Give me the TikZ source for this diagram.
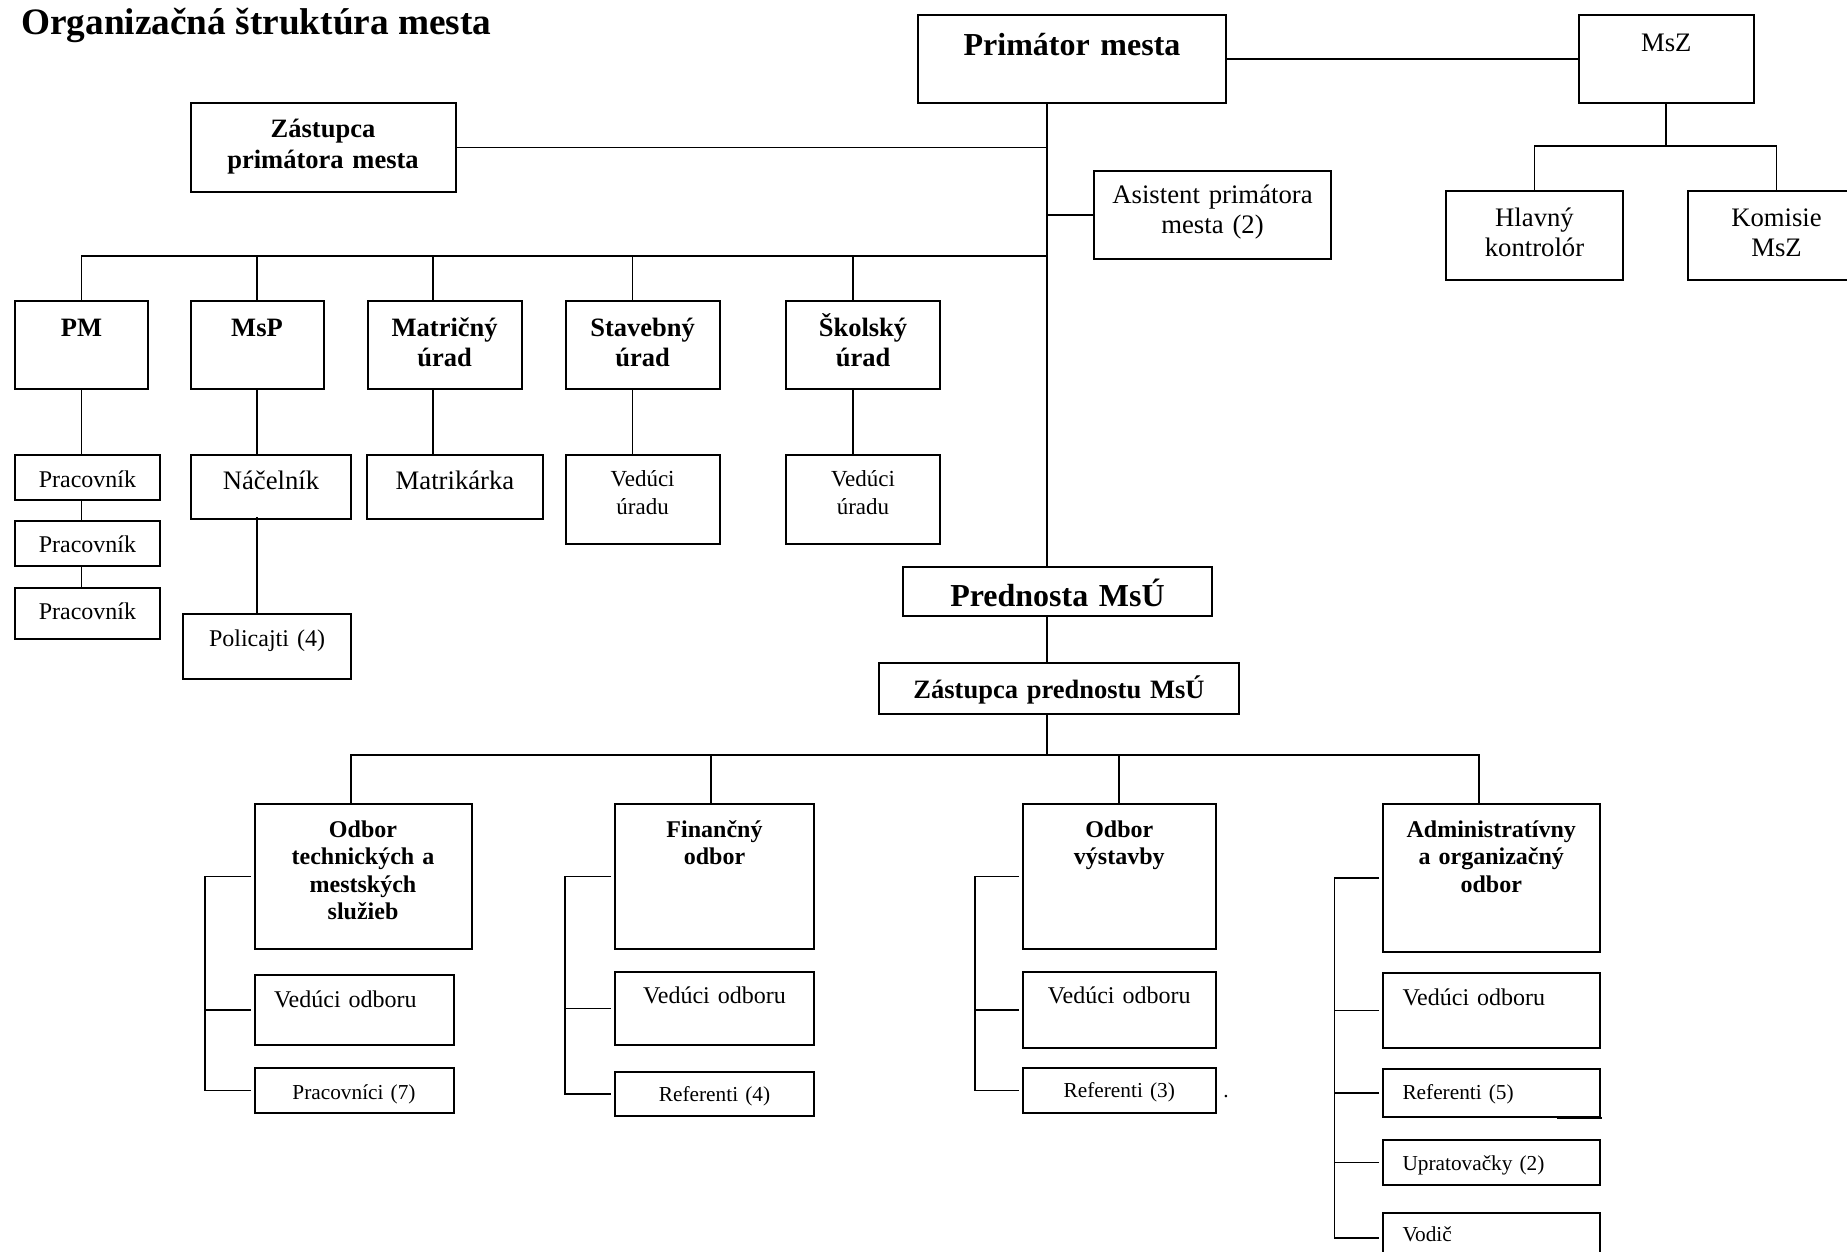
\documentclass[tikz,border=0pt]{standalone}
\usepackage{fontspec}
\setmainfont{Liberation Serif}
\usepackage{tikz}
\usetikzlibrary{positioning}
\usetikzlibrary{calc}

\begin{document}
\begin{tikzpicture}[x=1pt, y=-1pt,
        every node/.style={inner sep=0pt, align=center},
        box/.style={draw, line width=2pt, anchor=north west},
        boxsize/.style n args={3}{text width=#1, text height=#2, text depth=#3},
        padded/.style={inner xsep=19.5pt, align=left},
        bighead/.style={box, font=\bfseries\fontsize{32}{36}\selectfont},
        head/.style={box, font=\bfseries\fontsize{26.5}{30.5}\selectfont},
        odbor/.style={box, font=\bfseries\fontsize{24}{27.5}\selectfont},
        office/.style={box, font=\fontsize{26.7}{30}\selectfont},
        staff/.style={box, font=\fontsize{24}{28}\selectfont},
        lowstaff/.style={box, font=\fontsize{21.3}{25}\selectfont},
        link/.style={line width=1.6pt}]
        \useasboundingbox (0,0) rectangle (1847,1252);
        \clip (0,0) rectangle (1847,1252);
        \node[anchor=base west, font=\bfseries\fontsize{37.3}{41}\selectfont] (title) at (21,35) {Organizačná štruktúra mesta};
        \node[bighead, boxsize={308pt}{41pt}{47pt}] (primator) at (917,14) {Primátor mesta};
        \node[office, boxsize={175.5pt}{37pt}{51pt}] (msz) at (1577.5,14) {MsZ};
        \node[head, boxsize={265pt}{35pt}{54pt}] (zastupca) at (189.5,102) {Zástupca\\primátora mesta};
        \node[office, boxsize={237pt}{33pt}{55pt}] (asistent) at (1093,170) {Asistent primátora\\mesta (2)};
        \node[office, boxsize={177pt}{35pt}{54pt}] (hlavny) at (1445,190) {Hlavný\\kontrolór};
        \node[office, boxsize={177pt}{35pt}{54pt}] (komisie) at (1687,190) {Komisie\\MsZ};
        \node[head, boxsize={133pt}{35pt}{53pt}] (pm) at (14,300) {PM};
        \node[head, boxsize={133pt}{35pt}{53pt}] (msp) at (189.5,300) {MsP};
        \node[head, boxsize={154pt}{35pt}{53pt}] (matricny) at (366.7,300) {Matričný\\úrad};
        \node[head, boxsize={154.3pt}{35pt}{53pt}] (stavebny) at (564.5,300) {Stavebný\\úrad};
        \node[head, boxsize={154pt}{35pt}{53pt}] (skolsky) at (785,300) {Školský\\úrad};
        \node[staff, boxsize={145pt}{32.7pt}{12.3pt}] (prac1) at (14,454) {Pracovník};
        \node[staff, boxsize={145pt}{31.7pt}{13.3pt}] (prac2) at (14,520) {Pracovník};
        \node[staff, boxsize={145pt}{31pt}{20pt}] (prac3) at (14,587) {Pracovník};
        \node[office, boxsize={160pt}{34pt}{30pt}] (nacelnik) at (190,454) {Náčelník};
        \node[staff, boxsize={168pt}{32pt}{33pt}] (policajti) at (182,613) {Policajti (4)};
        \node[office, boxsize={176pt}{34pt}{30pt}] (matrikarka) at (366,454) {Matrikárka};
        \node[staff, font=\fontsize{23}{28}\selectfont, boxsize={154.3pt}{31pt}{58pt}] (vedstav) at (564.5,454) {Vedúci\\úradu};
        \node[staff, font=\fontsize{23}{28}\selectfont, boxsize={154pt}{31pt}{58pt}] (vedskol) at (785,454) {Vedúci\\úradu};
        \node[bighead, boxsize={309pt}{39pt}{10pt}] (prednosta) at (902,566) {Prednosta MsÚ};
        \node[head, boxsize={360pt}{35pt}{16pt}] (zastprednostu) at (878,662) {Zástupca prednostu MsÚ};
        \node[odbor, boxsize={217pt}{33pt}{112pt}] (odtech) at (253.5,803) {Odbor\\technických a\\mestských\\služieb};
        \node[odbor, boxsize={199pt}{33pt}{112pt}] (odfin) at (614,803) {Finančný\\odbor};
        \node[odbor, boxsize={192.5pt}{33pt}{112pt}] (odvyst) at (1022,803) {Odbor\\výstavby};
        \node[odbor, boxsize={216.5pt}{33pt}{115pt}] (odadm) at (1382,803) {Administratívny\\a organizačný\\odbor};
        \node[staff, padded, boxsize={160pt}{32.7pt}{37.3pt}] (vedtech) at (253.5,974) {Vedúci odboru};
        \node[lowstaff, boxsize={199pt}{31pt}{14pt}] (prac7) at (253.5,1067) {Pracovníci (7)};
        \node[staff, boxsize={199pt}{31.7pt}{41.3pt}] (vedfin) at (614,971) {Vedúci odboru};
        \node[lowstaff, boxsize={199pt}{29pt}{15pt}] (ref4) at (614,1071) {Referenti (4)};
        \node[staff, boxsize={192.5pt}{31.7pt}{44.3pt}] (vedvyst) at (1022,971) {Vedúci odboru};
        \node[lowstaff, boxsize={192.5pt}{29.7pt}{15.3pt}] (ref3) at (1022,1067) {Referenti (3)};
        \node[anchor=base, font=\fontsize{21.3}{25}\selectfont] (dot) at (1226,1097) {.};
        \node[staff, padded, boxsize={177.5pt}{32pt}{43pt}] (vedadm) at (1382,972) {Vedúci odboru};
        \node[lowstaff, padded, boxsize={177.5pt}{30pt}{18pt}] (ref5) at (1382,1068) {Referenti (5)};
        \node[lowstaff, padded, boxsize={177.5pt}{30pt}{15pt}] (uprat) at (1382,1139) {Upratovačky (2)};
        \node[lowstaff, padded, boxsize={177.5pt}{28.7pt}{21.3pt}] (vodic) at (1382,1212) {Vodič};
        \coordinate (trunk) at (1047,0);
        \coordinate (bus0) at (0,146);
        \coordinate (bus1) at (0,256);
        \coordinate (bus2) at (0,755);
        \coordinate (brtech) at (205,0);
        \coordinate (brfin) at (565,0);
        \coordinate (brvyst) at (975,0);
        \coordinate (bradm) at (1334.5,0);
        \draw[link] (primator.east) -- (msz.west);
        \draw[link] (primator.south -| trunk) -- (prednosta.north -| trunk);
        \draw[link] (zastupca.east) -- (zastupca.east -| trunk);
        \draw[link] (asistent.west) -- (asistent.west -| trunk);
        \draw[link] (msz.south) -- (msz.south |- bus0);
        \draw[link] (hlavny.north) |- (komisie.north |- bus0) -- (komisie.north);
        \draw[link] (pm.north) -- (pm.north |- bus1) -- (bus1 -| trunk);
        \foreach \n/\dx in {msp/0, matricny/-12, stavebny/-10, skolsky/-10}
            \draw[link] ([xshift=\dx pt]\n.north) -- ([xshift=\dx pt]\n.north |- bus1);
        \draw[link] (pm.south) -- (pm.south |- prac1.north);
        \draw[link] (prac1.south -| pm.south) -- (prac2.north -| pm.south);
        \draw[link] (prac2.south -| pm.south) -- (prac3.north -| pm.south);
        \draw[link] (msp.south) -- (msp.south |- nacelnik.north);
        \draw[link] ([yshift=3pt]nacelnik.south -| msp.south) -- (policajti.north -| msp.south);
        \foreach \p/\c/\dx in {matricny/matrikarka/-12, stavebny/vedstav/-10, skolsky/vedskol/-10}
            \draw[link] ([xshift=\dx pt]\p.south) -- ([xshift=\dx pt]\p.south |- \c.north);
        \draw[link] (prednosta.south -| trunk) -- (zastprednostu.north -| trunk);
        \draw[link] (zastprednostu.south -| trunk) -- (bus2 -| trunk);
        \draw[link] ([xshift=-12pt]odtech.north) |- ([xshift=-12pt]odadm.north |- bus2) -- ([xshift=-12pt]odadm.north);
        \foreach \n/\dx in {odfin/-3.5, odvyst/0}
            \draw[link] ([xshift=\dx pt]\n.north) -- ([xshift=\dx pt]\n.north |- bus2);
        \foreach \h/\l/\b in {odtech/prac7/brtech, odfin/ref4/brfin, odvyst/ref3/brvyst, odadm/vodic/bradm}
            \draw[link] ([xshift=-3pt]\h.west) -- (\h.west -| \b) -- (\l.west -| \b) -- ([xshift=-3pt]\l.west);
        \foreach \m/\b in {vedtech/brtech, vedfin/brfin, vedvyst/brvyst, vedadm/bradm, ref5/bradm, uprat/bradm}
            \draw[link] ([xshift=-3pt]\m.west) -- (\m.west -| \b);
        \draw[line width=2.5pt] ([xshift=-44pt]ref5.south east) -- ([xshift=1.5pt]ref5.south east);
    \end{tikzpicture}
\end{document}
